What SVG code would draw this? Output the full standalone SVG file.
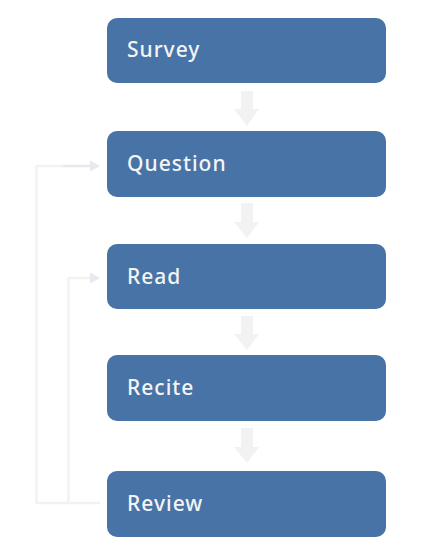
<svg xmlns="http://www.w3.org/2000/svg" width="428" height="556" viewBox="0 0 428 556">
<style>
.box{fill:#4873A6;}
.lbl{fill:#F4F4F6;font-family:"Noto Sans","Open Sans",sans-serif;font-size:21px;font-weight:500;letter-spacing:1px;}
.down{fill:#F2F2F2;}
.fb{fill:none;stroke:#F2F2F2;stroke-width:2.5;}
.fbd{fill:none;stroke:#E8E8EE;stroke-width:2.5;}
.head{fill:#E8E8EE;}
</style>
<rect width="428" height="556" fill="#FFFFFF"/>
<g id="connectors">
<path class="down" d="M241,91 H253 V109 H259 L247,126 L234,109 H241 Z"/>
<path class="down" d="M241,203 H253 V222 H259 L247,238 L234,222 H241 Z"/>
<path class="down" d="M241,316 H253 V334 H259 L247,350 L234,334 H241 Z"/>
<path class="down" d="M241,428 H253 V447 H259 L247,463 L234,447 H241 Z"/>
<path class="fb" d="M100,503 H36.5 V166 H63"/>
<path class="fbd" d="M63,166 H91"/>
<path class="head" d="M90,160.5 L100,166 L90,171.5 Z"/>
<path class="fb" d="M68.5,503 V278 H91"/>
<path class="head" d="M90,272.5 L100,278 L90,283.5 Z"/>
</g>
<g id="survey"><rect class="box" x="107" y="18" width="279" height="65" rx="10"/><text class="lbl" x="127" y="57">Survey</text></g>
<g id="question"><rect class="box" x="107" y="131" width="279" height="66" rx="10"/><text class="lbl" x="127" y="171">Question</text></g>
<g id="read"><rect class="box" x="107" y="244" width="279" height="65" rx="10"/><text class="lbl" x="127" y="284">Read</text></g>
<g id="recite"><rect class="box" x="107" y="355" width="279" height="66" rx="10"/><text class="lbl" x="127" y="395">Recite</text></g>
<g id="review"><rect class="box" x="107" y="471" width="279" height="66" rx="10"/><text class="lbl" x="127" y="511">Review</text></g>
</svg>
